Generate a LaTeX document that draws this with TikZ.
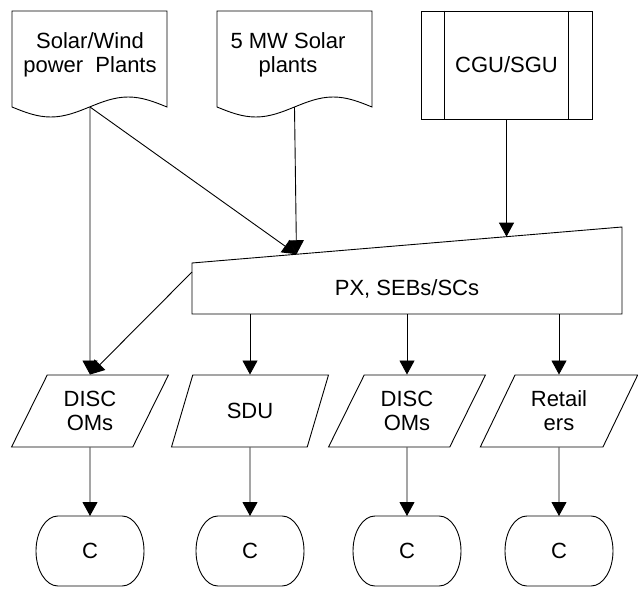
\documentclass[tikz,border=0pt]{standalone}
\usepackage{fontspec}
\setmainfont{Liberation Sans}
\usetikzlibrary{arrows.meta,shapes.geometric,calc}
\begin{document}
\begin{tikzpicture}[x=1pt,y=-1pt,line width=0.9pt,font=\fontsize{22}{24}\selectfont]
\tikzstyle{arrow} = [-{Triangle[width=15pt,length=14pt]}]
\tikzstyle{invisible} = [outer sep=0,inner sep=0,minimum size=0,align=center]
\tikzstyle{procbox} = [draw, minimum width=171pt, minimum height=108pt]
\tikzstyle{databox} = [draw, trapezium, trapezium left angle=61, trapezium right angle=119,
	trapezium stretches=true, minimum width=158pt, minimum height=72pt, inner sep=0, align=center]
\tikzstyle{termbox} = [outer sep=0, minimum width=108pt, minimum height=70pt]

\useasboundingbox (0,0) rectangle (638,589);

% document shapes on top
\foreach \x in {12,217}
{
	\draw (\x,107) sin ++(38.75,10) cos ++(38.75,-10) sin ++(38.75,-10) cos ++(38.75,10)
	-- ++(0,-96) -- (\x,11) -- cycle;
}
\node [invisible] (solar) at (90,55) {Solar/Wind\\power\ \ Plants};
\node [invisible] (mw) at (288,55) {5 MW Solar\\plants};
\coordinate (solarout) at (90,107);
\coordinate (mwout) at (294.5,107);

\node [procbox] (cgu) at (506.5,65) {CGU/SGU};
\draw ([xshift=24pt]cgu.north west) -- ([xshift=24pt]cgu.south west);
\draw ([xshift=-24pt]cgu.north east) -- ([xshift=-24pt]cgu.south east);

% manual input
\coordinate (pxnw) at (192,263);
\coordinate (pxne) at (622,227);
\coordinate (pxse) at (622,314);
\coordinate (pxsw) at (192,314);
\draw (pxnw) -- (pxne) -- (pxse) -- (pxsw) -- cycle;
\node [invisible] (px) at (407,289) {PX, SEBs/SCs};
\coordinate (pxin1) at ($(pxnw)!0.2430!(pxne)$);
\coordinate (pxin2) at ($(pxnw)!0.7314!(pxne)$);
\coordinate (pxleft) at (192,272);

\draw [arrow] (solarout) -- (pxin1);
\draw [arrow] (mwout) -- (pxin1);
\draw [arrow] (cgu.south) -- (pxin2);

\foreach \n/\x/\t in {1/90/{DISC\\OMs},2/250/{SDU},3/407/{DISC\\OMs},4/559/{Retail\\ers}}
{
	\node [databox] (d\n) at (\x,411) {\t};
	\node [termbox] (c\n) at (\x,551) {C};
	\draw ([xshift=22pt]c\n.north west) -- ([xshift=-22pt]c\n.north east)
	arc [start angle=90, end angle=-90, x radius=22pt, y radius=35pt]
	-- ([xshift=22pt]c\n.south west)
	arc [start angle=-90, end angle=-270, x radius=22pt, y radius=35pt] -- cycle;
	\draw [arrow] (d\n.south) -- (c\n.north);
}
\draw [arrow] (solarout) -- (d1.north);
\draw [arrow] (pxleft) -- (d1.north);
\foreach \n in {2,3,4}
{
	\draw [arrow] (d\n.north |- pxsw) -- (d\n.north);
}
\end{tikzpicture}
\end{document}
